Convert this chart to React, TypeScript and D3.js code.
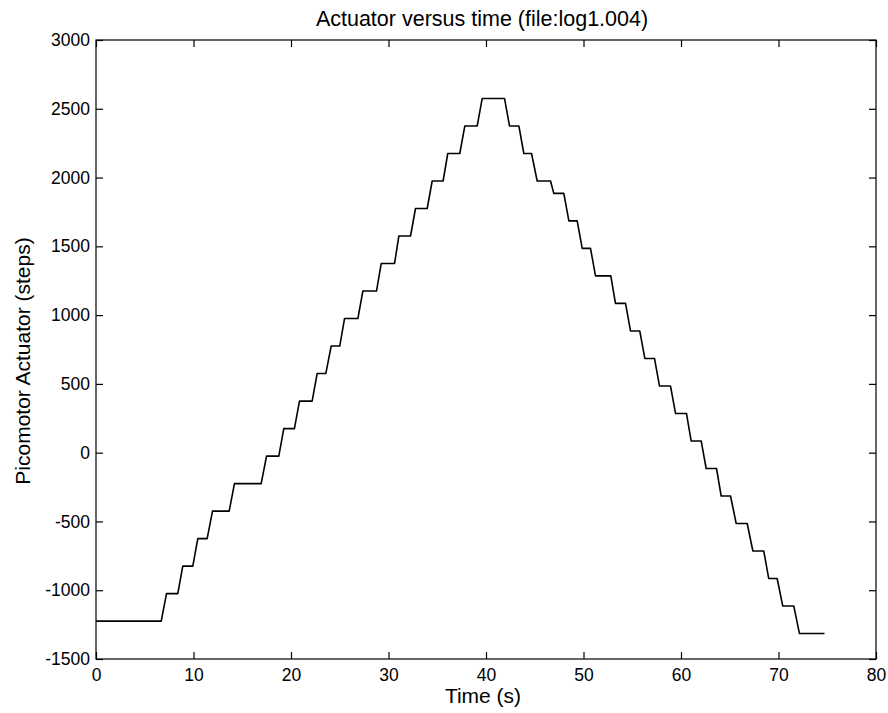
import React, { useEffect, useRef } from 'react';
import * as d3 from 'd3';

// plateau levels of the actuator (steps), in order
const levels = [
  -1225, -1025, -825, -625, -425, -225, -25, 175, 375, 575,
  775, 975, 1175, 1375, 1575, 1775, 1975, 2175, 2375, 2575,
  2375, 2175, 1975, 1885, 1685, 1485, 1285, 1085, 885, 685,
  485, 285, 85, -115, -315, -515, -715, -915, -1115, -1315,
];
// time (s) where each plateau starts / ends
const plateauStart = [
  0, 7.23, 8.9, 10.44, 11.95, 14.2, 17.49, 19.26, 20.87, 22.68,
  24.12, 25.49, 27.37, 29.25, 31.06, 32.77, 34.48, 36.08, 37.83, 39.61,
  42.41, 43.88, 45.25, 46.95, 48.5, 49.87, 51.23, 53.28, 54.82, 56.29,
  57.79, 59.44, 61.04, 62.58, 64.12, 65.66, 67.37, 69.0, 70.44, 72.15,
];
const plateauEnd = [
  6.69, 8.39, 9.93, 11.4, 13.66, 16.94, 18.75, 20.35, 22.17, 23.57,
  25.0, 26.86, 28.77, 30.62, 32.26, 33.97, 35.6, 37.31, 39.1, 41.9,
  43.37, 44.67, 46.62, 47.98, 49.35, 50.72, 52.8, 54.31, 55.77, 57.28,
  58.92, 60.56, 62.07, 63.64, 65.08, 66.79, 68.49, 69.86, 71.57, 74.72,
];

const xTicks = [0, 10, 20, 30, 40, 50, 60, 70, 80];
const yTicks = [-1500, -1000, -500, 0, 500, 1000, 1500, 2000, 2500, 3000];

const FONT = '"Liberation Sans", Arial, Helvetica, sans-serif';

const App = () => {
  const svgRef = useRef<SVGSVGElement>(null);

  useEffect(() => {
    const width = 888;
    const height = 713;
    const margin = { top: 40, right: 12, bottom: 54, left: 96 };
    const innerW = width - margin.left - margin.right;
    const innerH = height - margin.top - margin.bottom;

    const svg = d3.select(svgRef.current)
                  .attr('width', width)
                  .attr('height', height);
    svg.selectAll('*').remove();

    const x = d3.scaleLinear().domain([0, 80]).range([0, innerW]);
    const y = d3.scaleLinear().domain([-1500, 3000]).range([innerH, 0]);

    const g = svg.append('g')
                 .attr('transform', `translate(${margin.left},${margin.top})`);

    // box
    g.append('rect')
     .attr('width', innerW)
     .attr('height', innerH)
     .attr('fill', 'none')
     .attr('stroke', '#000')
     .attr('stroke-width', 1.2);

    const tickLen = 7;
    const plain = (d: d3.NumberValue) => String(d); // hyphen minus, no thousands comma

    // bottom axis (inward ticks)
    const bottom = g.append('g')
                    .attr('transform', `translate(0,${innerH})`)
                    .call(d3.axisBottom(x).tickValues(xTicks).tickFormat(plain)
                      .tickSize(-tickLen).tickPadding(10).tickSizeOuter(0));
    // top ticks
    g.append('g')
     .call(d3.axisTop(x).tickValues(xTicks).tickSize(-tickLen).tickFormat(() => '').tickSizeOuter(0));
    // left axis
    const left = g.append('g')
                  .call(d3.axisLeft(y).tickValues(yTicks).tickFormat(plain)
                    .tickSize(-tickLen).tickPadding(6).tickSizeOuter(0));
    // right ticks
    g.append('g')
     .attr('transform', `translate(${innerW},0)`)
     .call(d3.axisRight(y).tickValues(yTicks).tickSize(-tickLen).tickFormat(() => '').tickSizeOuter(0));

    g.selectAll('.domain').remove();
    g.selectAll('.tick line').attr('stroke', '#000').attr('stroke-width', 1.2);

    [bottom, left].forEach(a => a.selectAll('text')
      .attr('fill', '#000')
      .style('font-family', FONT)
      .style('font-size', '17.5px'));

    // data line: each plateau is a flat segment, joined by short ramps
    const points: [number, number][] = [];
    levels.forEach((v, i) => {
      points.push([plateauStart[i], v]);
      points.push([plateauEnd[i], v]);
    });

    const line = d3.line<[number, number]>()
                   .x(d => x(d[0]))
                   .y(d => y(d[1]));

    g.append('path')
     .datum(points)
     .attr('fill', 'none')
     .attr('stroke', '#000')
     .attr('stroke-width', 1.6)
     .attr('stroke-linejoin', 'round')
     .attr('d', line);

    // title and labels
    svg.append('text')
       .attr('x', 482)
       .attr('y', 26)
       .attr('text-anchor', 'middle')
       .style('font-family', FONT)
       .style('font-size', '21.5px')
       .text('Actuator versus time (file:log1.004)');

    svg.append('text')
       .attr('x', 483)
       .attr('y', 703)
       .attr('text-anchor', 'middle')
       .style('font-family', FONT)
       .style('font-size', '21px')
       .text('Time (s)');

    svg.append('text')
       .attr('transform', `translate(30,361) rotate(-90)`)
       .attr('text-anchor', 'middle')
       .style('font-family', FONT)
       .style('font-size', '21px')
       .text('Picomotor Actuator (steps)');
  }, []);

  return (
    <svg ref={svgRef} style={{ position: 'absolute', left: 0, top: 0, background: '#fff' }}></svg>
  );
};

export default App;
